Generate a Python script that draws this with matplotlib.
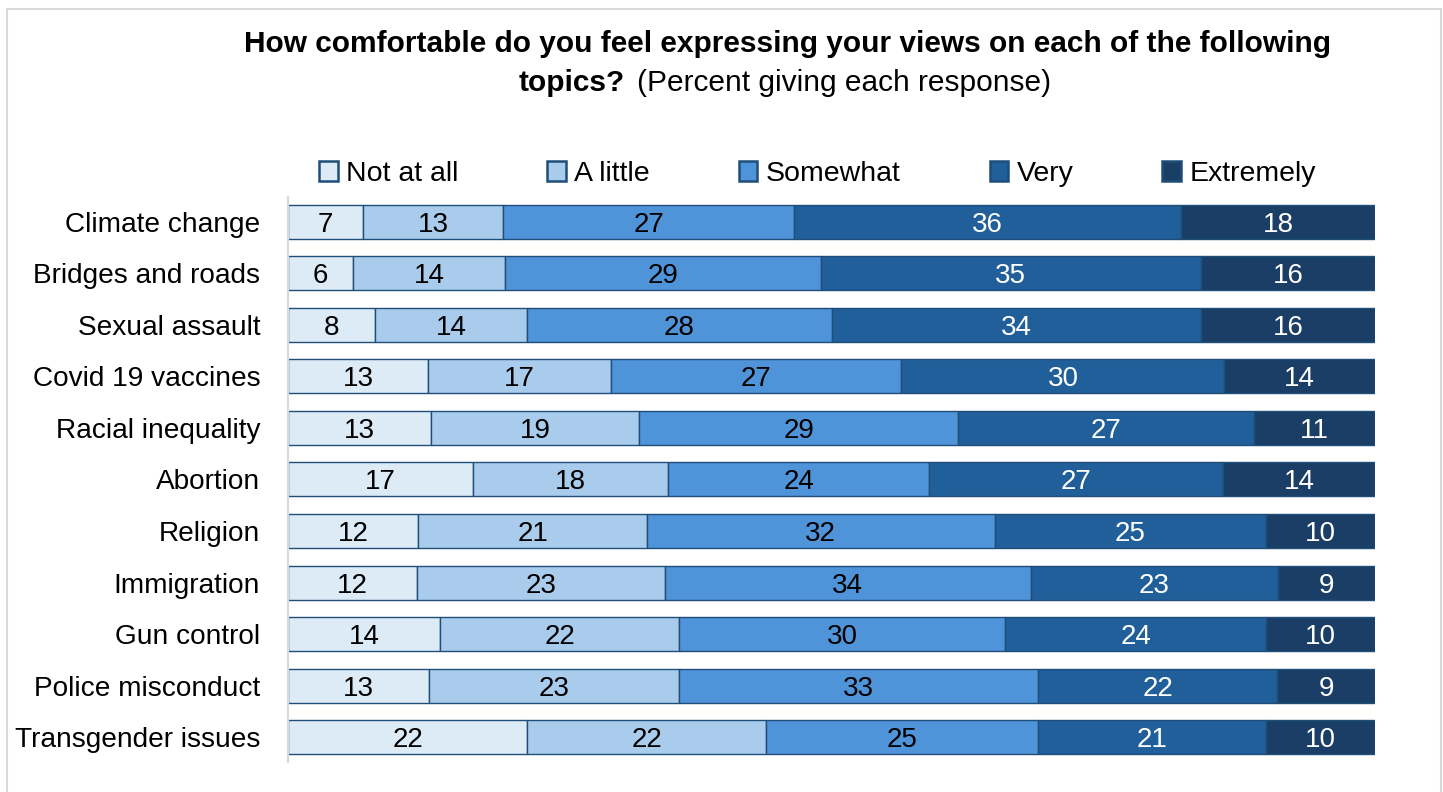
import numpy as np
import matplotlib.pyplot as plt
from matplotlib.patches import Rectangle

plt.rcParams['font.family'] = ['Liberation Sans', 'DejaVu Sans']

topics = ['Climate change', 'Bridges and roads', 'Sexual assault', 'Covid 19 vaccines',
          'Racial inequality', 'Abortion', 'Religion', 'Immigration', 'Gun control',
          'Police misconduct', 'Transgender issues']
responses = ['Not at all', 'A little', 'Somewhat', 'Very', 'Extremely']

not_at_all = [7, 6, 8, 13, 13, 17, 12, 12, 14, 13, 22]
a_little = [13, 14, 14, 17, 19, 18, 21, 23, 22, 23, 22]
somewhat = [27, 29, 28, 27, 29, 24, 32, 34, 30, 33, 25]
very = [36, 35, 34, 30, 27, 27, 25, 23, 24, 22, 21]
extremely = [18, 16, 16, 14, 11, 14, 10, 9, 10, 9, 10]

colors = ['#DDEBF7', '#A9CCED', '#4F93D8', '#215F9A', '#1A3E66']
text_colors = ['black', 'black', 'black', 'white', 'white']

data = np.array([not_at_all, a_little, somewhat, very, extremely], dtype=float)
shares = data / data.sum(axis=0) * 100  # 100% stacked

fig = plt.figure(figsize=(14.43, 7.92), dpi=100)
ax = fig.add_axes([0.1996, 0.0379, 0.7533, 0.7134])

# chart border
fig.patches.append(Rectangle((7 / 1443, -0.05), (1441 - 7) / 1443, 1 - 9 / 792 + 0.05,
                             transform=fig.transFigure, fill=False,
                             edgecolor='#D9D9D9', linewidth=1.5))

y = np.arange(len(topics))
left = np.zeros(len(topics))
for i, resp in enumerate(responses):
    ax.barh(y, shares[i], left=left, height=0.66, color=colors[i],
            edgecolor='#1F4E79', linewidth=1.0, label=resp)
    for j in range(len(topics)):
        ax.text(left[j] + shares[i][j] / 2, y[j], '%d' % data[i][j],
                ha='center', va='center_baseline', fontsize=20, color=text_colors[i])
    left += shares[i]

ax.set_xlim(0, 100)
ax.set_ylim(10.48, -0.48)
ax.set_yticks(y)
ax.set_yticklabels(topics, fontsize=20.2)
ax.tick_params(axis='y', length=0, pad=20)
ax.set_xticks([])
for s in ['top', 'right', 'bottom']:
    ax.spines[s].set_visible(False)
ax.spines['left'].set_color('#D9D9D9')
ax.spines['left'].set_linewidth(1.5)

leg = fig.legend(loc='center left', bbox_to_anchor=(319 / 1443, 1 - 174 / 792), ncol=5, frameon=False,
                 fontsize=20.5, handlelength=0.65, handleheight=0.65, handletextpad=0.3,
                 columnspacing=3.12, borderpad=0, borderaxespad=0)
for h in leg.legend_handles:
    h.set_linewidth(1.8)

fig.text(787 / 1443, 1 - 44 / 792, 'How comfortable do you feel expressing your views on each of the following',
         ha='center', va='center', fontsize=21.5, fontweight='bold')
fig.text(625 / 1443, 1 - 83 / 792, 'topics?', ha='right', va='center', fontsize=21.5, fontweight='bold')
fig.text(637 / 1443, 1 - 83 / 792, '(Percent giving each response)', ha='left', va='center', fontsize=21.5)

plt.savefig('out.png', dpi=100)
